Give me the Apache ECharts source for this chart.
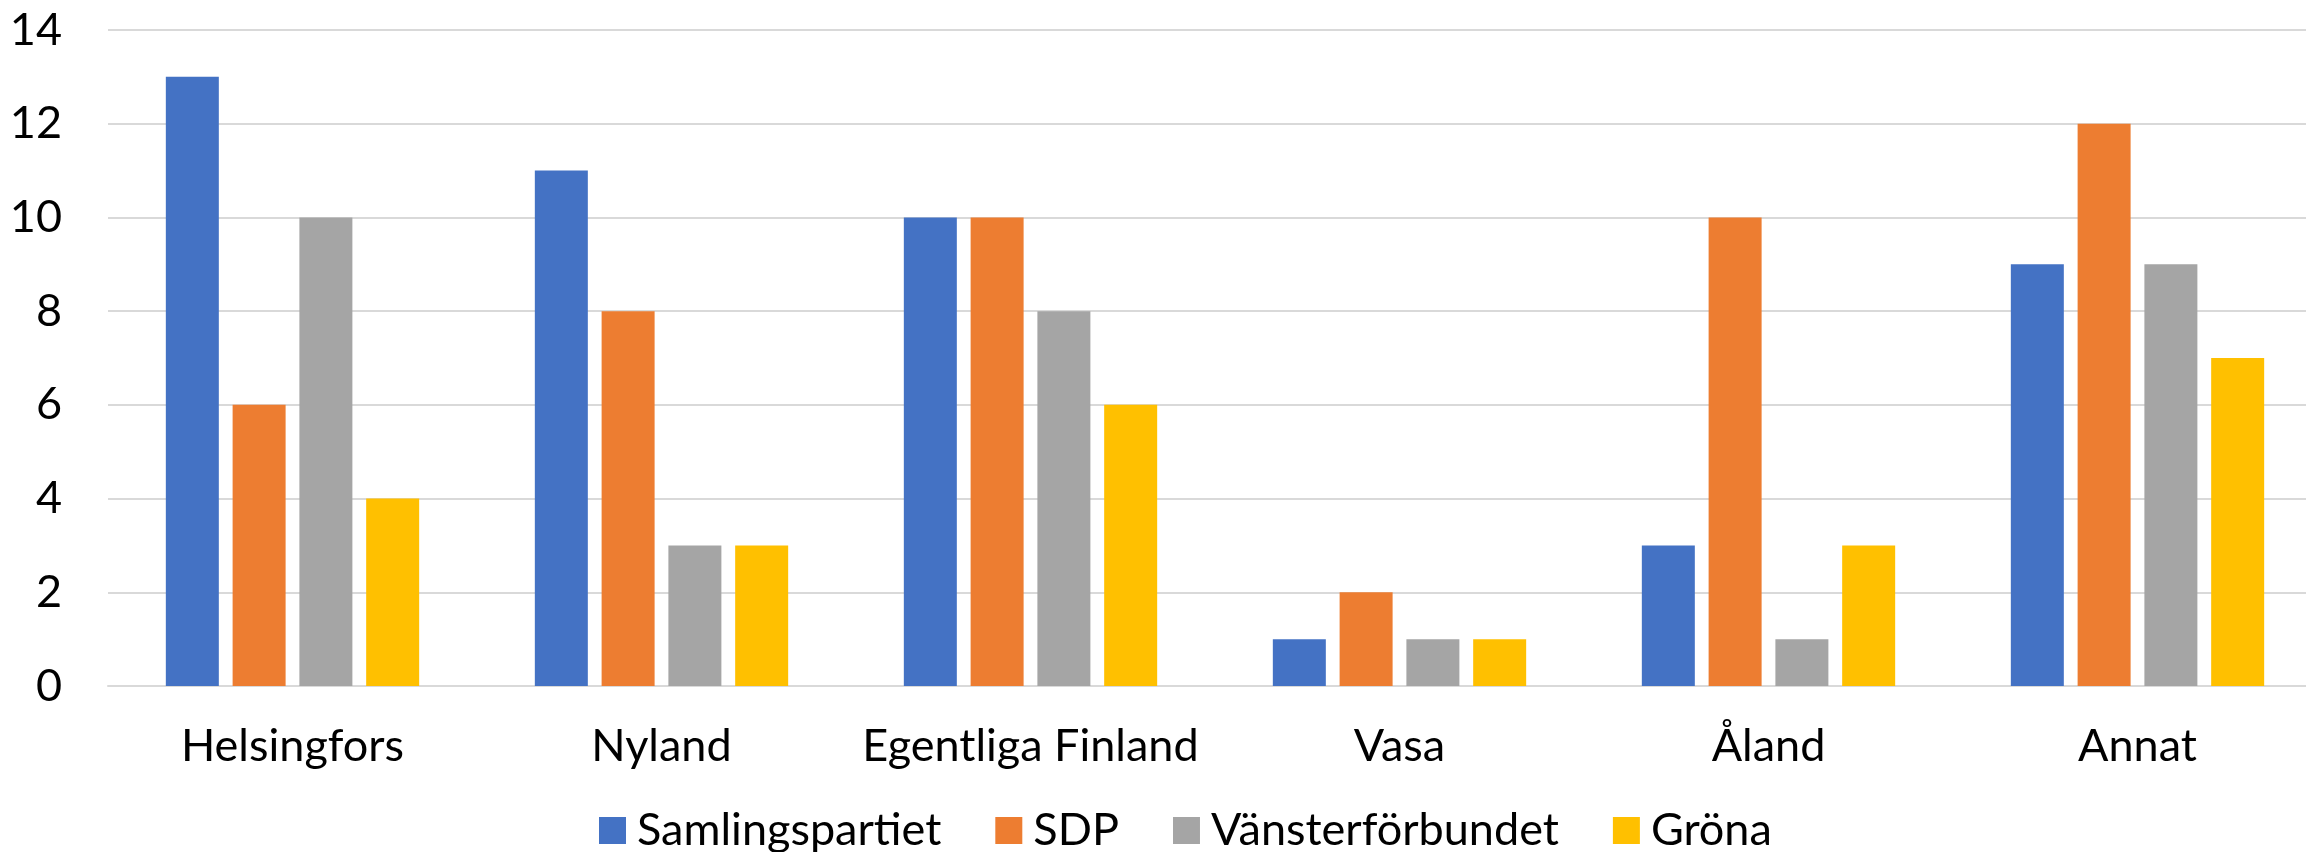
<!DOCTYPE html>
<html>
<head>
<meta charset="utf-8">
<script src="https://cdn.jsdelivr.net/npm/echarts@6/dist/echarts.min.js"></script>
<style>
  html, body { margin: 0; padding: 0; background: #fff; }
  #wrap { width: 2306px; height: 852px; overflow: hidden; }
  /* the source chart runs a little past its right edge, so draw wider and clip */
  #chart { width: 2324px; height: 852px; }
</style>
</head>
<body>
<div id="wrap"><div id="chart"></div></div>
<script>
var regions = ['Helsingfors', 'Nyland', 'Egentliga Finland', 'Vasa', 'Åland', 'Annat'];
var samlingspartiet = [13, 11, 10, 1, 3, 9];
var sdp = [6, 8, 10, 2, 10, 12];
var vansterforbundet = [10, 3, 8, 1, 1, 9];
var grona = [4, 3, 6, 1, 3, 7];

var fontName = 'Lato';
var chart = echarts.init(document.getElementById('chart'));

function bar(name, data) {
    return {
        name: name,
        type: 'bar',
        data: data,
        barWidth: 53,
        barGap: '26%'
    };
}

var option = {
    animation: false,
    color: ['#4472C4', '#ED7D31', '#A5A5A5', '#FFC000'],
    textStyle: { fontFamily: fontName },
    grid: { left: 108, top: 30, right: 2, bottom: 166, containLabel: false },
    legend: {
        left: 594,
        top: 803,
        itemWidth: 27,
        itemHeight: 27,
        itemGap: 54,
        icon: 'rect',
        textStyle: { fontFamily: fontName, fontSize: 45, color: '#000', padding: [0, 0, 0, 6] },
        data: ['Samlingspartiet', 'SDP', 'Vänsterförbundet', 'Gröna']
    },
    xAxis: {
        type: 'category',
        data: regions,
        axisLine: { lineStyle: { color: '#D9D9D9', width: 2 } },
        axisTick: { show: false },
        axisLabel: { color: '#000', fontSize: 45, fontFamily: fontName, margin: 38, interval: 0 }
    },
    yAxis: {
        type: 'value',
        min: 0,
        max: 14,
        interval: 2,
        axisLine: { show: false },
        axisTick: { show: false },
        splitLine: { lineStyle: { color: '#D9D9D9', width: 2 } },
        axisLabel: { color: '#000', fontSize: 45, fontFamily: fontName, margin: 46 }
    },
    series: [
        bar('Samlingspartiet', samlingspartiet),
        bar('SDP', sdp),
        bar('Vänsterförbundet', vansterforbundet),
        bar('Gröna', grona)
    ]
};

chart.setOption(option);
</script>
</body>
</html>
